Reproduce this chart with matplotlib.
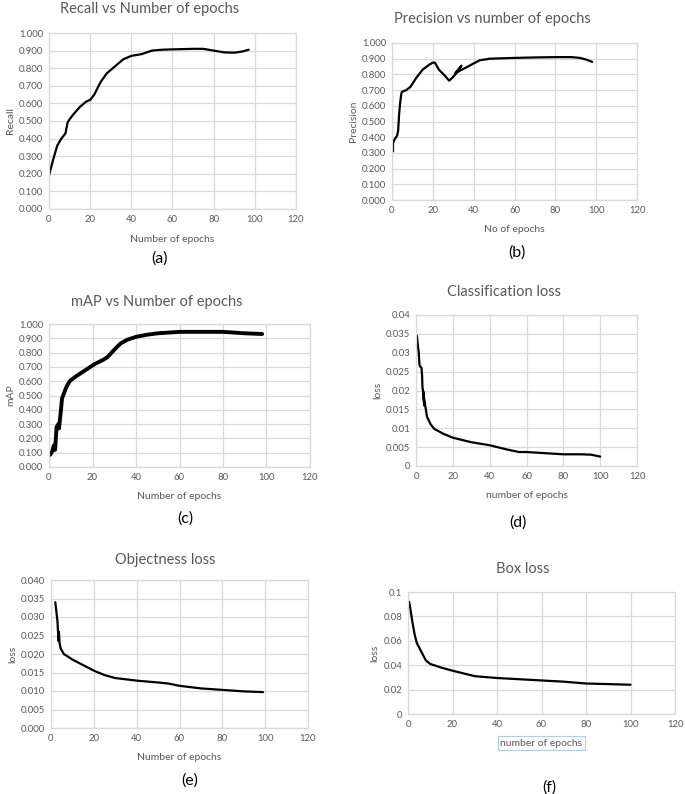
import matplotlib
matplotlib.use('Agg')
import numpy as np
import matplotlib.pyplot as plt

plt.rcParams['font.family'] = ['Lato', 'DejaVu Sans']

W, H = 685, 794

# (a) Recall
recall_x = [0, 2, 4, 6, 8, 9, 10, 12, 15, 18, 20, 22, 25, 28, 32, 36, 40, 45, 50, 55,
            60, 70, 75, 80, 85, 90, 94, 97]
recall_y = [0.19, 0.28, 0.36, 0.40, 0.43, 0.49, 0.51, 0.54, 0.58, 0.61, 0.62, 0.65, 0.72,
            0.77, 0.81, 0.85, 0.87, 0.88, 0.90, 0.905, 0.907, 0.91, 0.91, 0.90, 0.89, 0.888,
            0.895, 0.905]

# (b) Precision
prec_x = [0.5, 0.5, 1, 2.5, 3, 3.5, 4, 4.6, 5, 7, 9, 12, 15, 18, 20, 21, 23, 26, 28, 30,
          32, 34, 31, 35, 40, 43, 48, 60, 70, 80, 88, 92, 95, 98]
prec_y = [0.31, 0.36, 0.38, 0.41, 0.44, 0.55, 0.62, 0.68, 0.69, 0.70, 0.72, 0.78, 0.83,
          0.86, 0.875, 0.875, 0.83, 0.79, 0.76, 0.785, 0.815, 0.855, 0.81, 0.835, 0.87,
          0.89, 0.90, 0.905, 0.908, 0.91, 0.91, 0.905, 0.895, 0.88]

# (c) mAP
map_x = [0.5, 1.5, 2.2, 2.8, 3.5, 4.3, 4.6, 5.5, 6, 6.5, 8, 9.5, 12, 15, 18, 21, 25, 27,
         30, 33, 36, 40, 45, 50, 55, 60, 70, 80, 85, 90, 98]
map_y = [0.085, 0.11, 0.15, 0.12, 0.28, 0.30, 0.27, 0.40, 0.48, 0.50, 0.56, 0.60, 0.63,
         0.66, 0.69, 0.72, 0.75, 0.77, 0.82, 0.865, 0.89, 0.91, 0.925, 0.935, 0.94, 0.945,
         0.945, 0.945, 0.94, 0.935, 0.93]

# (d) Classification loss
cls_x = [0.5, 1, 1.5, 1.8, 2, 3, 3.3, 3.5, 4, 4.5, 3.8, 5, 6, 8, 10, 15, 20, 30, 40, 50,
         56, 60, 70, 80, 90, 95, 100]
cls_y = [0.0345, 0.032, 0.030, 0.0275, 0.0265, 0.026, 0.024, 0.021, 0.019, 0.016, 0.020,
         0.016, 0.013, 0.011, 0.0098, 0.0085, 0.0075, 0.0063, 0.0055, 0.0043, 0.0037,
         0.0037, 0.0034, 0.0031, 0.0031, 0.003, 0.0025]

# (e) Objectness loss
obj_x = [2, 3, 3.5, 3.7, 4, 4.5, 6, 10, 15, 20, 25, 30, 40, 50, 55, 60, 70, 80, 90, 99]
obj_y = [0.034, 0.029, 0.0235, 0.026, 0.023, 0.0215, 0.020, 0.0185, 0.017, 0.0155,
         0.0143, 0.0135, 0.0128, 0.0123, 0.012, 0.0114, 0.0107, 0.0103, 0.0099, 0.0097]

# (f) Box loss
box_x = [0.5, 1, 2, 3, 4, 6, 8, 10, 15, 20, 30, 40, 50, 60, 70, 80, 90, 100]
box_y = [0.092, 0.087, 0.075, 0.065, 0.058, 0.051, 0.044, 0.041, 0.038, 0.0355, 0.031,
         0.0295, 0.0285, 0.0275, 0.0265, 0.025, 0.0245, 0.024]

GRAY = '#595959'
GRID = '#d9d9d9'


def px_axes(fig, x0, y0, x1, y1):
    """Axes from pixel box (left, top, right, bottom)"""
    return fig.add_axes([x0 / W, 1 - y1 / H, (x1 - x0) / W, (y1 - y0) / H])


def style(ax, ymax, ystep, yfmt):
    ax.set_xlim(0, 120)
    ax.set_ylim(0, ymax)
    ax.set_xticks(np.arange(0, 121, 20))
    yt = np.arange(0, ymax + ystep / 2, ystep)
    ax.set_yticks(yt)
    ax.set_yticklabels([yfmt(v) for v in yt])
    ax.grid(True, color=GRID, lw=0.9)
    ax.set_axisbelow(True)
    for s in ax.spines.values():
        s.set_color(GRID)
        s.set_linewidth(0.9)
    ax.tick_params(length=0, labelsize=6.8, colors=GRAY, pad=4)


def fmt3(v):
    return f'{v:.3f}'


def fmt_g(v):
    s = f'{v:.3f}'.rstrip('0').rstrip('.')
    return s if s else '0'


panels = [
    # box, data, title, xlabel, ylabel, ymax, step, fmt, lw, title (x, y), xlabel_y, tag (x, y)
    ((49, 33, 296, 209), recall_x, recall_y, 'Recall vs Number of epochs', 'Number of epochs',
     'Recall', 1.0, 0.1, fmt3, 1.6, (150, 9), 239, '(a)', (159, 259)),
    ((392, 43, 637, 200), prec_x, prec_y, 'Precision vs number of epochs', 'No of epochs',
     'Precision', 1.0, 0.1, fmt3, 1.6, (492, 19), 230, '(b)', (517, 253)),
    ((49, 324, 310, 467), map_x, map_y, 'mAP vs Number of epochs', 'Number of epochs',
     'mAP', 1.0, 0.1, fmt3, 2.8, (157, 302), 497, '(c)', (185, 519)),
    ((416, 315, 637, 466), cls_x, cls_y, 'Classification loss', 'number of epochs',
     'loss', 0.04, 0.005, fmt_g, 1.6, (504, 292), 496, '(d)', (518, 523)),
    ((51, 580, 308, 728), obj_x, obj_y, 'Objectness loss', 'Number of epochs',
     'loss', 0.04, 0.005, fmt3, 1.6, (165, 560), 757, '(e)', (190, 781)),
    ((408, 592, 675, 714), box_x, box_y, 'Box loss', 'number of epochs',
     'loss', 0.1, 0.02, fmt_g, 1.6, (523, 569), 743, '(f)', (549, 788)),
]

fig = plt.figure(figsize=(W / 100, H / 100), dpi=100)

for (box, xs, ys, title, xl, yl, ymax, step, fmt, lw, tpos, xly, tag, tagpos) in panels:
    ax = px_axes(fig, *box)
    style(ax, ymax, step, fmt)
    ax.plot(xs, ys, color='black', lw=lw, solid_joinstyle='round', solid_capstyle='round')
    cx = (box[0] + box[2]) / 2
    fig.text(tpos[0] / W, 1 - tpos[1] / H, title, ha='center', va='center', fontsize=10.5,
             color=GRAY)
    kw = {}
    if tag == '(f)':
        kw['bbox'] = dict(boxstyle='square,pad=0.25', fc='white', ec='#b4cde6', lw=0.8)
    fig.text(cx / W, 1 - xly / H, xl, ha='center', va='center', fontsize=7.5, color=GRAY, **kw)
    ax.set_ylabel(yl, fontsize=7.5, color=GRAY, labelpad=3)
    fig.text(tagpos[0] / W, 1 - tagpos[1] / H, tag, ha='center', va='center', fontsize=11.5,
             color='black')

fig.savefig('out.png', dpi=100)
